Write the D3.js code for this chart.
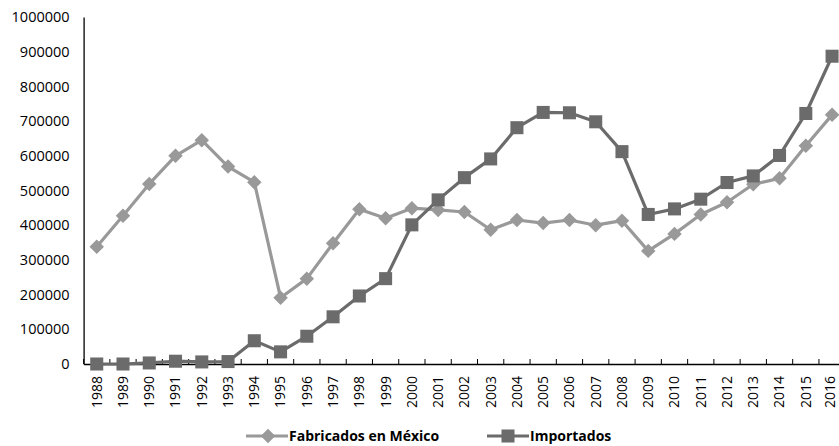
<!DOCTYPE html>
<html>
<head>
<meta charset="utf-8">
<script src="https://cdn.jsdelivr.net/npm/d3@7"></script>
<style>
  html, body { margin: 0; padding: 0; background: #fff; }
  svg { display: block; }
  text { font-family: "Open Sans", sans-serif; fill: #000; }
</style>
</head>
<body>
<svg id="chart" width="839" height="446"></svg>
<script>
const years = ["1988","1989","1990","1991","1992","1993","1994","1995","1996","1997","1998","1999","2000","2001","2002","2003","2004","2005","2006","2007","2008","2009","2010","2011","2012","2013","2014","2015","2016"];
const fabricados = [338000,427000,519000,600000,645000,569000,524000,191000,246000,348000,446000,420000,449000,444000,438000,387000,415000,406000,415000,400000,413000,326000,375000,431000,466000,518000,535000,629000,718000];
const importados = [0,0,3000,8000,6000,7000,67000,35000,80000,136000,196000,246000,401000,473000,537000,591000,681000,725000,724000,698000,612000,431000,447000,475000,523000,542000,601000,722000,887000];
const yTicks = [0,100000,200000,300000,400000,500000,600000,700000,800000,900000,1000000];
const seriesNames = ["Fabricados en México","Importados"];
const seriesColors = ["#999999","#6b6b6b"];

const svg = d3.select("#chart");
const x0 = 83.6, x1 = 845.2, yTop = 17, yBot = 364;

const x = d3.scaleBand().domain(years).range([x0, x1]);
const y = d3.scaleLinear().domain([0, 1000000]).range([yBot, yTop]);

// Y axis
const yAxis = svg.append("g").attr("transform", `translate(${x0},0)`)
  .call(d3.axisLeft(y).tickValues(yTicks).tickSize(0).tickPadding(14).tickFormat(d3.format("d")));
yAxis.select(".domain").attr("stroke", "#000").attr("stroke-width", 1.3);
yAxis.selectAll("text").style("font-size", "14.5px").style("font-family", "'Open Sans', sans-serif");

// X axis
const xAxis = svg.append("g").attr("transform", `translate(0,${yBot})`)
  .call(d3.axisBottom(x).tickSize(0).tickPadding(0));
xAxis.select(".domain").attr("stroke", "#000").attr("stroke-width", 1.3);
xAxis.selectAll("text")
  .style("font-size", "14px")
  .style("font-family", "'Open Sans', sans-serif")
  .attr("text-anchor", "end")
  .attr("transform", "translate(0,12) rotate(-90)")
  .attr("dx", 0).attr("dy", "0.35em").attr("y", 0).attr("x", 0);
xAxis.selectAll(".tick").filter(d => d === years[years.length-1])
  .attr("transform", `translate(${x(years[years.length-1]) + x.bandwidth()/2 - 1.5},0)`);

// tick marks at category boundaries (pointing up)
const bounds = years.map(d => x(d)).concat([x(years[years.length-1]) + x.bandwidth()]);
svg.append("g").selectAll("line").data(bounds).join("line")
  .attr("x1", d => d).attr("x2", d => d)
  .attr("y1", yBot).attr("y2", yBot - 5)
  .attr("stroke", "#000").attr("stroke-width", 1);

const cx = d => x(d) + x.bandwidth() / 2;
const symSquare = d3.symbol().type(d3.symbolSquare).size(170);
const symDiamond = d3.symbol().type(d3.symbolSquare).size(105);

function drawSeries(vals, color, isSquare) {
  const data = years.map((yr, i) => ({yr, v: vals[i]}));
  const line = d3.line().x(d => cx(d.yr)).y(d => y(d.v));
  svg.append("path").datum(data).attr("d", line)
    .attr("fill", "none").attr("stroke", color).attr("stroke-width", 3.2)
    .attr("stroke-linejoin", "round");
  svg.append("g").selectAll("path").data(data).join("path")
    .attr("d", isSquare ? symSquare : symDiamond)
    .attr("transform", d => `translate(${cx(d.yr)},${y(d.v)})` + (isSquare ? "" : " rotate(45)"))
    .attr("fill", color);
}

drawSeries(fabricados, seriesColors[0], false);
drawSeries(importados, seriesColors[1], true);

// Legend
const legendItems = [
  {name: seriesNames[0], color: seriesColors[0], square: false, lx: 246},
  {name: seriesNames[1], color: seriesColors[1], square: true, lx: 487}
];
const ly = 436;
const lg = svg.append("g").selectAll("g").data(legendItems).join("g")
  .attr("transform", d => `translate(${d.lx},${ly})`);
lg.append("line").attr("x1", 0).attr("x2", 42).attr("y1", 0).attr("y2", 0)
  .attr("stroke", d => d.color).attr("stroke-width", 3.2);
lg.append("path")
  .attr("d", d => d.square ? symSquare() : symDiamond())
  .attr("transform", d => d.square ? "translate(21,0)" : "translate(22,0) rotate(45)")
  .attr("fill", d => d.color);
lg.append("text").attr("x", 43).attr("y", 0).attr("dy", "0.35em")
  .style("font-size", "14px").style("font-weight", "bold")
  .text(d => d.name);
</script>
</body>
</html>
